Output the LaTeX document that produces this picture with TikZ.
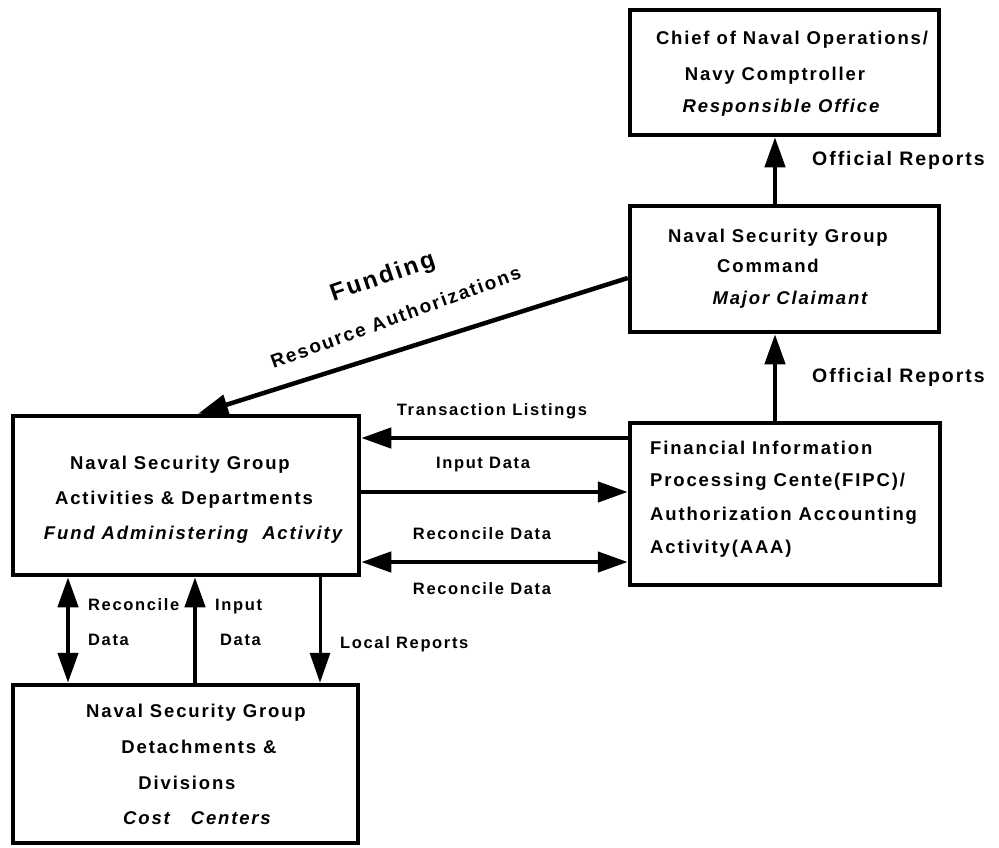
\documentclass[tikz,border=0pt]{standalone}
\usepackage{fontspec}
\setmainfont{Liberation Sans}[LetterSpace=10]
\usetikzlibrary{arrows.meta}
\begin{document}
\begin{tikzpicture}[x=1pt,y=-1pt,
  box/.style={draw, line width=4.5pt, inner sep=0pt, rectangle},
  txt/.style={font=\fontsize{18.5}{20}\selectfont\bfseries, inner sep=0pt, anchor=mid},
  itxt/.style={font=\fontsize{18.5}{20}\selectfont\bfseries\itshape, inner sep=0pt, anchor=mid},
  ltxt/.style={font=\fontsize{18.5}{20}\selectfont\bfseries, inner sep=0pt, anchor=mid west},
  lbl/.style={font=\fontsize{16.5}{18}\selectfont\bfseries, inner sep=0pt, anchor=mid},
  llbl/.style={font=\fontsize{16.5}{18}\selectfont\bfseries, inner sep=0pt, anchor=mid west},
  orlbl/.style={font=\fontsize{19.5}{21}\selectfont\bfseries, inner sep=0pt, anchor=mid west},
  tip/.tip={Triangle[length=30pt,width=20pt]},
  arr/.style={line width=4.5pt, -tip},
  darr/.style={line width=4.5pt, tip-tip},
  thinarr/.style={line width=3pt, -tip}
]
\useasboundingbox (0,0) rectangle (999,847);

% boxes
\node[box, minimum width=309pt, minimum height=125pt] (chief) at (784.5,72.5) {};
\node[box, minimum width=309pt, minimum height=126pt] (command) at (784.5,269) {};
\node[box, minimum width=346pt, minimum height=159pt] (activities) at (186,495.5) {};
\node[box, minimum width=310pt, minimum height=162pt] (fipc) at (785,504) {};
\node[box, minimum width=345pt, minimum height=158pt] (detach) at (185.5,764) {};

% box texts
\node[txt] (c1) at (792,42) {Chief of Naval Operations/};
\node[txt] (c2) at (775,78) {Navy Comptroller};
\node[itxt] (c3) at (781,110) {Responsible Office};

\node[txt] (m1) at (778,240) {Naval Security Group};
\node[txt] (m2) at (768,270) {Command};
\node[itxt] (m3) at (790,302) {Major Claimant};

\node[ltxt] (f1) at (650,452) {Financial Information};
\node[ltxt] (f2) at (650,484) {Processing Cente(FIPC)/};
\node[ltxt] (f3) at (650,518) {Authorization Accounting};
\node[ltxt] (f4) at (650,551) {Activity(AAA)};

\node[txt] (a1) at (180,467) {Naval Security Group};
\node[txt] (a2) at (184,502) {Activities \& Departments};
\node[itxt] (a3) at (193,537) {Fund Administering~~Activity};

\node[txt] (d1) at (196,715) {Naval Security Group};
\node[txt] (d2) at (199,751) {Detachments \&};
\node[txt] (d3) at (187,787) {Divisions};
\node[itxt] (d4) at (197,822) {Cost~~~Centers};

% helper coordinates
\coordinate (xOR) at (775,0);
\coordinate (yF) at (0,278);
\coordinate (xF) at (198,0);
\coordinate (yTL) at (0,438);
\coordinate (yID) at (0,492);
\coordinate (yRD) at (0,562);
\coordinate (xRV) at (68,0);
\coordinate (xIV) at (195,0);
\coordinate (xLR) at (320,0);

% connectors
\draw[arr] (command.north -| xOR) -- (chief.south -| xOR);
\draw[arr] (fipc.north -| xOR) -- (command.south -| xOR);
\draw[arr] (command.west |- yF) -- (activities.north -| xF);
\draw[arr] (fipc.west |- yTL) -- (activities.east |- yTL);
\draw[arr] (activities.east |- yID) -- (fipc.west |- yID);
\draw[darr] (activities.east |- yRD) -- (fipc.west |- yRD);
\draw[darr] (activities.south -| xRV) -- (detach.north -| xRV);
\draw[arr] (detach.north -| xIV) -- (activities.south -| xIV);
\draw[thinarr] (activities.south -| xLR) -- (detach.north -| xLR);

% connector labels
\node[orlbl] (or1) at (812,163) {Official Reports};
\node[orlbl] (or2) at (812,380) {Official Reports};
\node[lbl, rotate=19, font=\fontsize{24}{26}\selectfont\bfseries] (fund) at (384,281) {Funding};
\node[lbl, rotate=20, font=\fontsize{19}{21}\selectfont\bfseries] (res) at (397,321) {Resource Authorizations};
\node[lbl] (tl) at (492,413) {Transaction Listings};
\node[lbl] (idl) at (483,466) {Input Data};
\node[lbl] (rd1) at (482,537) {Reconcile Data};
\node[lbl] (rd2) at (482,592) {Reconcile Data};
\node[llbl] (rv1) at (88,608) {Reconcile};
\node[llbl] (rv2) at (88,643) {Data};
\node[llbl] (iv1) at (215,608) {Input};
\node[llbl] (iv2) at (220,643) {Data};
\node[llbl] (lr) at (340,646) {Local Reports};
\end{tikzpicture}
\end{document}
